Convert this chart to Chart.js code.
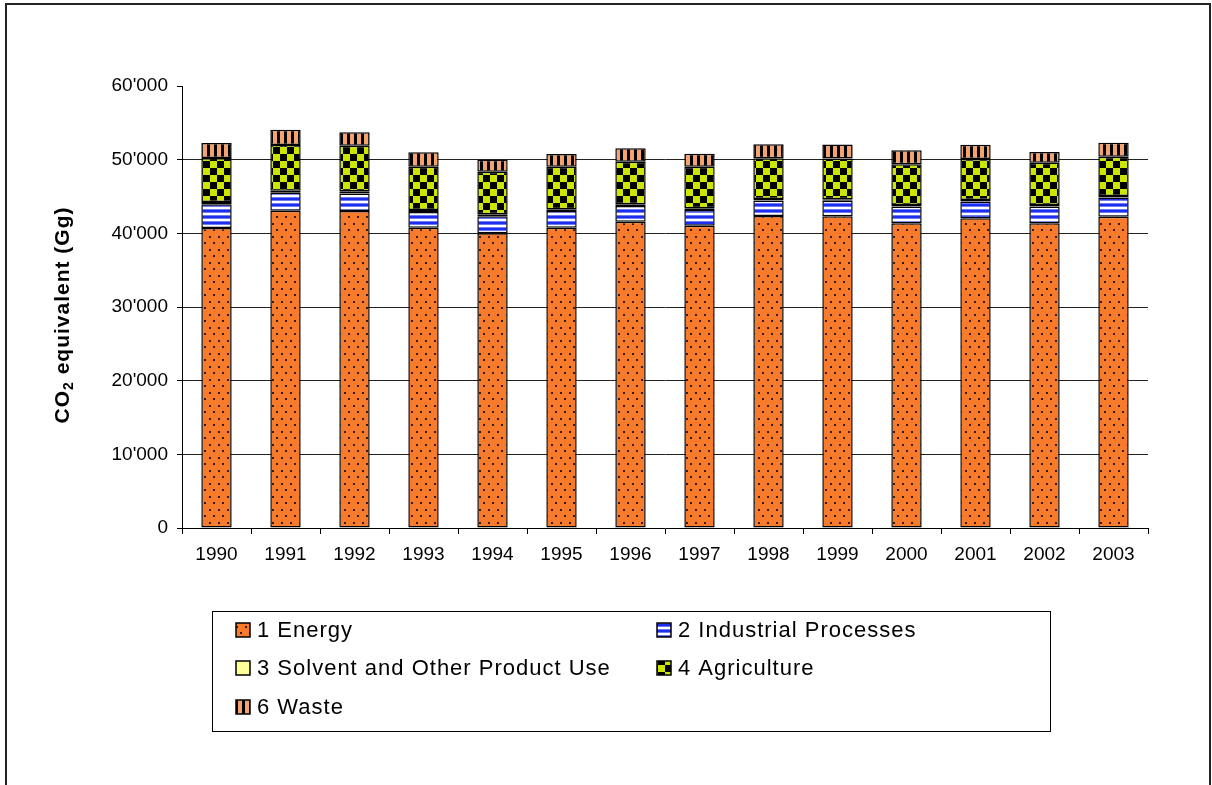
<!DOCTYPE html>
<html lang="en">
<head>
  <meta charset="UTF-8">
  <title>CO2 equivalent emissions by sector</title>
  <script src="https://cdn.jsdelivr.net/npm/chart.js"></script>
  <style>
    body {
      margin: 0;
      padding: 0;
      background: #ffffff;
    }
    #chart {
      display: block;
    }
  </style>
</head>
<body>
  <canvas id="chart" width="1212" height="785"></canvas>

  <script>
    // data (Gg CO2 eq)
    const years = ['1990', '1991', '1992', '1993', '1994', '1995', '1996', '1997', '1998', '1999', '2000', '2001', '2002', '2003'];
    const energy      = [40725, 43074, 43030, 40766, 40005, 40766, 41580, 41037, 42354, 42310, 41363, 42042, 41363, 42259];
    const industrial  = [3230, 2430, 2390, 2140, 2330, 2260, 2130, 2140, 2100, 2100, 2280, 2280, 2290, 2620];
    const solvent     = [300, 290, 280, 260, 250, 240, 230, 220, 210, 210, 200, 200, 190, 190];
    const agriculture = [5970, 6200, 6200, 5880, 5780, 5780, 5780, 5650, 5530, 5530, 5530, 5570, 5740, 5340];
    const waste       = [2040, 2080, 1810, 1960, 1630, 1720, 1820, 1770, 1900, 1900, 1900, 1940, 1450, 1900];
    const yTicks = [0, 10000, 20000, 30000, 40000, 50000, 60000];

    const seriesNames = ['1 Energy', '2 Industrial Processes', '3 Solvent and Other Product Use', '4 Agriculture', '6 Waste'];

    const canvas = document.getElementById('chart');
    const ctx = canvas.getContext('2d');

    // little helper to build fill patterns from a tile
    function makePattern(w, h, draw) {
      const c = document.createElement('canvas');
      c.width = w;
      c.height = h;
      draw(c.getContext('2d'));
      return ctx.createPattern(c, 'repeat');
    }

    const energyFill = makePattern(9, 13, g => {
      g.fillStyle = '#F87B2C';
      g.fillRect(0, 0, 9, 13);
      g.fillStyle = '#3a1a08';
      g.fillRect(2, 2, 2, 2);
      g.fillRect(6, 8, 2, 2);
    });
    const industrialFill = makePattern(1, 6, g => {
      const rows = ['#1E2EF0', '#1E2EF0', '#6E7CF2', '#FFFFFF', '#FFFFFF', '#6E7CF2'];
      rows.forEach((c, i) => { g.fillStyle = c; g.fillRect(0, i, 1, 1); });
    });
    const solventFill = '#FFFF99';
    const agricultureFill = makePattern(14, 14, g => {
      g.fillStyle = '#CCE600';
      g.fillRect(0, 0, 14, 14);
      g.fillStyle = '#000000';
      g.fillRect(0, 0, 7, 7);
      g.fillRect(7, 7, 7, 7);
    });
    const wasteFill = makePattern(7, 1, g => {
      g.fillStyle = '#F4A26E';
      g.fillRect(0, 0, 4, 1);
      g.fillStyle = '#000000';
      g.fillRect(4, 0, 3, 1);
    });

    const fills = [energyFill, industrialFill, solventFill, agricultureFill, wasteFill];
    const values = [energy, industrial, solvent, agriculture, waste];

    function fmt(v) {
      return String(v).replace(/\B(?=(\d{3})+(?!\d))/g, "'");
    }

    // frame, y title and the boxed legend are drawn by hand
    const extras = {
      id: 'extras',
      afterDraw(chart) {
        const c = chart.ctx;
        c.save();

        // outer frame
        c.strokeStyle = '#222';
        c.lineWidth = 2;
        c.beginPath();
        c.moveTo(6, 800);
        c.lineTo(6, 4);
        c.lineTo(1210, 4);
        c.lineTo(1210, 800);
        c.stroke();

        // y axis title with subscript
        c.letterSpacing = '1px';
        c.translate(63, 315);
        c.rotate(-Math.PI / 2);
        c.fillStyle = '#000';
        c.textBaseline = 'middle';
        const big = 'bold 21px "Liberation Sans", Arial, sans-serif';
        const small = 'bold 14px "Liberation Sans", Arial, sans-serif';
        c.font = big;
        const w1 = c.measureText('CO').width;
        const w3 = c.measureText(' equivalent (Gg)').width;
        c.font = small;
        const w2 = c.measureText('2').width;
        let x = -(w1 + w2 + w3) / 2;
        c.font = big;
        c.fillText('CO', x, 0);
        x += w1;
        c.font = small;
        c.fillText('2', x, 6);
        x += w2;
        c.font = big;
        c.fillText(' equivalent (Gg)', x, 0);
        c.restore();

        // legend box
        c.save();
        c.strokeStyle = '#000';
        c.lineWidth = 1;
        c.strokeRect(212.5, 611.5, 838, 120);
        const slots = [[236, 630], [657, 630], [236, 668], [657, 668], [236, 707]];
        c.font = '22px "Liberation Sans", Arial, sans-serif';
        c.letterSpacing = '1px';
        c.textBaseline = 'middle';
        seriesNames.forEach((name, i) => {
          const [sx, sy] = slots[i];
          c.fillStyle = fills[i];
          c.fillRect(sx, sy - 7, 14, 14);
          c.strokeStyle = '#000';
          c.lineWidth = 1.5;
          c.strokeRect(sx, sy - 7, 14, 14);
          c.fillStyle = '#000';
          c.fillText(name, sx + 21, sy + 1);
        });
        c.restore();
      }
    };

    new Chart(ctx, {
      type: 'bar',
      data: {
        labels: years,
        datasets: seriesNames.map((name, i) => ({
          label: name,
          data: values[i],
          backgroundColor: fills[i],
          borderColor: '#000',
          borderWidth: 1.5,
          borderSkipped: false,
          barPercentage: 0.44,
          categoryPercentage: 1
        }))
      },
      options: {
        responsive: false,
        animation: false,
        layout: {
          padding: { left: 0, top: 86, right: 64, bottom: 217 }
        },
        plugins: {
          legend: { display: false },
          tooltip: { enabled: false }
        },
        scales: {
          x: {
            stacked: true,
            afterFit(scale) { scale.height = 40; },
            grid: {
              drawOnChartArea: false,
              color: '#000',
              tickLength: 6
            },
            border: { color: '#000', width: 1 },
            ticks: {
              color: '#000',
              padding: 9,
              maxRotation: 0,
              font: { family: '"Liberation Sans", Arial, sans-serif', size: 19 }
            }
          },
          y: {
            stacked: true,
            min: yTicks[0],
            max: yTicks[yTicks.length - 1],
            afterFit(scale) { scale.width = 182; },
            afterBuildTicks(scale) { scale.ticks = yTicks.map(v => ({ value: v })); },
            grid: {
              color: ctx2 => (ctx2.tick && (ctx2.tick.value === 60000 || ctx2.tick.value === 0)) ? 'rgba(0,0,0,0)' : '#222',
              tickColor: '#000',
              tickLength: 5
            },
            border: { color: '#000', width: 1 },
            ticks: {
              color: '#000',
              padding: 9,
              callback: v => fmt(v),
              font: { family: '"Liberation Sans", Arial, sans-serif', size: 19 }
            }
          }
        }
      },
      plugins: [extras]
    });
  </script>
</body>
</html>
